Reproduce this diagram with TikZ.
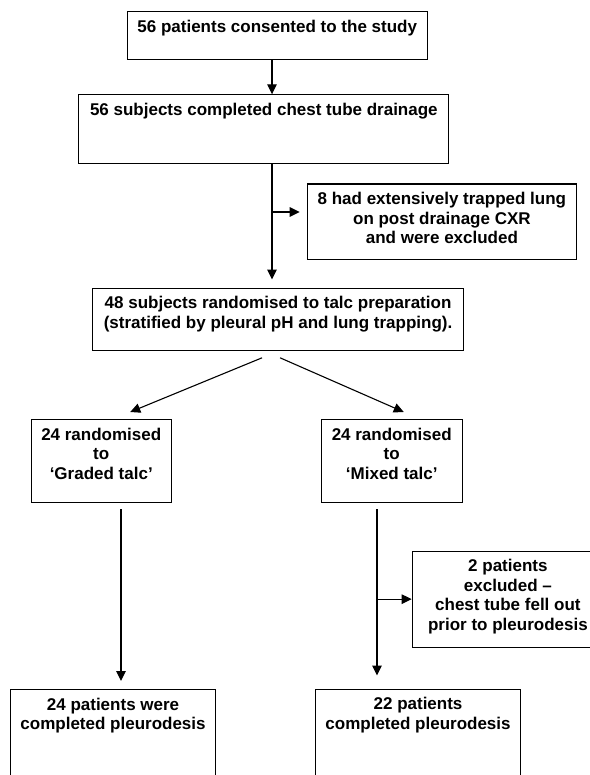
\documentclass[tikz,border=0pt]{standalone}
\usepackage{fontspec}
\setmainfont{Liberation Sans}
\usepackage{tikz}
\usetikzlibrary{calc,arrows.meta}
\newcommand{\boxtext}[3]{\parbox[c][#2][t]{#1}{\centering\rule{0pt}{20.5pt}#3}}
\tikzset{
	box/.style={draw, line width=1.1pt, inner sep=0pt, anchor=north west, font=\fontsize{17}{19.5}\selectfont\bfseries},
	arr/.style={line width=1.1pt, -{Triangle[length=10pt,width=9.5pt]}}
}

\begin{document}
\begin{tikzpicture}[x=1pt,y=-1pt]
		%%%%% START %%%%%
		
		\useasboundingbox (0,0) rectangle (589,775);
		
		\node[box] (b1) at (126.7,11) {\boxtext{300pt}{48.3pt}{56 patients consented to the study}};
		\node[box] (b2) at (78.3,94.3) {\boxtext{370pt}{69pt}{56 subjects completed chest tube drainage}};
		\node[box] (b3) at (306.7,183.5) {\boxtext{269.3pt}{75.8pt}{8 had extensively trapped lung\\on post drainage CXR\\and were excluded}};
		\node[box] (b4) at (92.3,287.5) {\boxtext{370.4pt}{62.2pt}{48 subjects randomised to talc preparation\\(stratified by pleural pH and lung trapping).}};
		
		\node[box] (b5) at (30.7,419) {\boxtext{140pt}{83pt}{24 randomised\\to\\‘Graded talc’}};
		\node[box] (b6) at (320.7,419) {\boxtext{141pt}{83pt}{24 randomised\\to\\‘Mixed talc’}};
		\node[box] (b9) at (411.7,550.7) {\boxtext{191.3pt}{95.8pt}{2 patients\\excluded –\\chest tube fell out\\prior to pleurodesis}};
		
		\node[box] (b7) at (10,689) {\boxtext{205pt}{111pt}{24 patients were\\completed pleurodesis}};
		\node[box] (b8) at (315,688.5) {\boxtext{205pt}{111pt}{22 patients\\completed pleurodesis}};
		
		\coordinate (spine) at (272,0);
		\coordinate (split1) at (272,212);
		\coordinate (gline) at (121,0);
		\coordinate (mline) at (377,0);
		
		\draw[arr] (b1.south -| spine) -- (b2.north -| spine);
		\draw[arr, shorten >=8pt] (b2.south -| spine) -- (b4.north -| spine);
		\draw[arr, shorten >=7pt] (split1) -- (split1 -| b3.west);
		
		\draw[arr] ($(b4.south)+(-16,7)$) -- ($(b5.north)+(29,-7)$);
		\draw[arr] ($(b4.south)+(2,7)$) -- ($(b6.north)+(12,-7)$);
		
		\draw[arr, shorten <=6pt, shorten >=8pt] (b5.south -| gline) -- (b7.north -| gline);
		\draw[arr, shorten <=6pt, shorten >=13pt] (b6.south -| mline) -- (b8.north -| mline);
		\draw[arr] (b9.west -| mline) -- (b9.west);
		
		%%%%% END %%%%%
\end{tikzpicture}
\end{document}
